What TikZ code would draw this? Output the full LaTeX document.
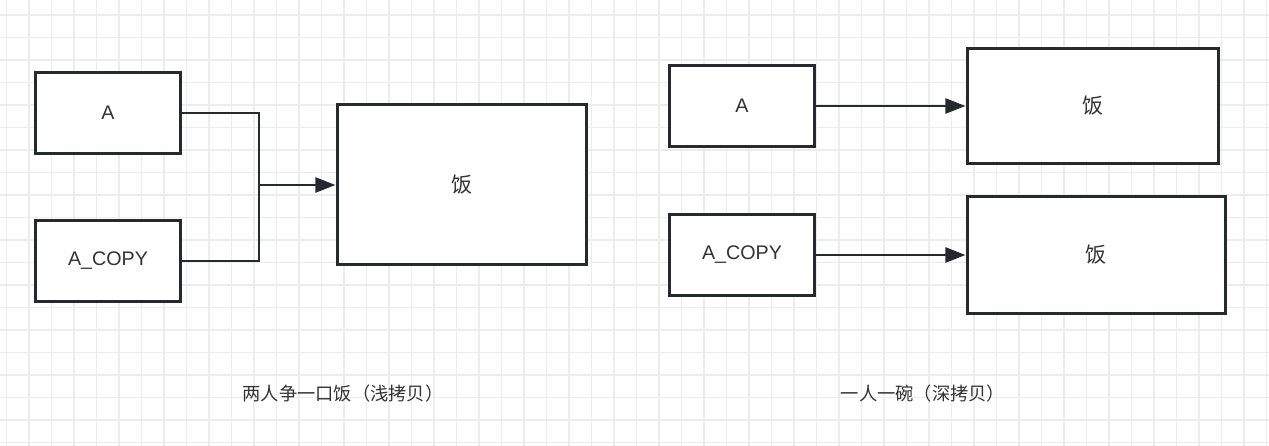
\documentclass[tikz,border=0pt]{standalone}
\usepackage{fontspec}
\setmainfont{Liberation Sans}
\newfontfamily\cjk{Noto Sans CJK SC}
\usepackage{tikz}
\usetikzlibrary{arrows.meta,positioning,calc}
\definecolor{CopyLine}{HTML}{252A30}
\definecolor{CopyText}{HTML}{333333}
\definecolor{CopyGrid}{HTML}{ECECEC}
\tikzset{
  gridline/.style={draw=CopyGrid, line width=0.9pt},
  wire/.style={draw=CopyLine, line width=1.7pt},
  flow/.style={wire, -{Triangle[length=11.5pt,width=8.5pt]}},
  varbox/.style={draw=CopyLine, fill=white, line width=1.7pt, minimum width=2.92cm,
                 minimum height=1.64cm, inner sep=0pt, text=CopyText, font=\fontsize{11.2}{13}\selectfont},
  ricebox/.style={varbox, font=\cjk\fontsize{12}{14}\selectfont},
  caption/.style={text=CopyText, inner sep=0pt, font=\cjk\fontsize{10.4}{12}\selectfont},
}
\begin{document}
\begin{tikzpicture}[x=0.02cm, y=-0.02cm]
    \useasboundingbox (0,0) rectangle (1269,446);
    \fill[white] (0,0) rectangle (1269,446);
    % background grid
    \foreach \gx in {0,...,56}
      \draw[gridline] ({6.7+22.5*\gx},0) -- ({6.7+22.5*\gx},446);
    \foreach \gy in {0,...,19}
      \draw[gridline] (0,{15+22.5*\gy}) -- (1269,{15+22.5*\gy});

    % shallow copy
    \node[varbox] (sa) at (108,113) {A};
    \node[varbox] (sacopy) at (108,261) {A\_COPY};
    \node[ricebox,minimum width=5cm,minimum height=3.22cm] (srice) at (462,184.5) {饭};
    \coordinate (join) at (259,185);
    \draw[wire] (sa.east) -| (join) |- (sacopy.east);
    \draw[flow] (join) -- (join -| srice.west);
    \node[caption] (scap) at (343,394) {两人争一口饭（浅拷贝）};

    % deep copy
    \node[varbox] (da) at (742,106) {A};
    \node[varbox] (dacopy) at (742,255) {A\_COPY};
    \node[ricebox,minimum width=5.04cm,minimum height=2.32cm] (drice) at (1093,106) {饭};
    \node[ricebox,minimum width=5.18cm,minimum height=2.34cm] (dricecopy) at (1096.5,255) {饭};
    \draw[flow] (da.east) -- (drice.west);
    \draw[flow] (dacopy.east) -- (dricecopy.west);
    \node[caption] (dcap) at (923,394) {一人一碗（深拷贝）};
  \end{tikzpicture}
\end{document}
